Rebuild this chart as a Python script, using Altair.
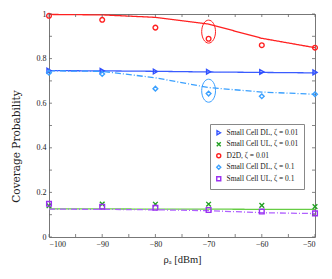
import altair as alt
import pandas as pd

# ---- data ----
x_vals = [-100, -90, -80, -70, -60, -50]
series_names = [
    "Small Cell DL, ζ = 0.01",
    "Small Cell UL, ζ = 0.01",
    "D2D, ζ = 0.01",
    "Small Cell DL, ζ = 0.1",
    "Small Cell UL, ζ = 0.1",
]
# simulated points (markers)
sim_dl_001 = [0.746, 0.745, 0.742, 0.741, 0.740, 0.738]
sim_ul_001 = [0.140, 0.148, 0.147, 0.147, 0.142, 0.136]
sim_d2d_001 = [0.992, 0.974, 0.939, 0.889, 0.860, 0.849]
sim_dl_01 = [0.737, 0.731, 0.665, 0.643, 0.631, 0.640]
sim_ul_01 = [0.149, 0.136, 0.131, 0.121, 0.114, 0.106]
# analytical curves (lines)
ana_dl_001 = [0.746, 0.745, 0.743, 0.740, 0.738, 0.736]
ana_ul_001 = [0.126, 0.126, 0.125, 0.125, 0.124, 0.124]
ana_d2d_001 = [0.998, 0.996, 0.985, 0.955, 0.891, 0.849]
ana_dl_01 = [0.745, 0.743, 0.714, 0.670, 0.650, 0.640]
ana_ul_01 = [0.125, 0.124, 0.122, 0.118, 0.109, 0.105]

colors = ["#3050ff", "#22a022", "#ff2020", "#3aa0ff", "#9a30f0"]
line_colors = ["#3a5cff", "#66cc44", "#ff2020", "#3aa0ff", "#b060ff"]
x_path = "M -1 -1 L 1 1 M -1 1 L 1 -1"
shapes = ["triangle-right", x_path, "circle", "diamond", "square"]
dashes = [[1, 0], [1, 0], [1, 0], [6, 2, 1, 2], [6, 2, 1, 2]]

x_ticks = [-100, -95, -90, -85, -80, -75, -70, -65, -60, -55, -50]
y_ticks = [0, 0.1, 0.2, 0.3, 0.4, 0.5, 0.6, 0.7, 0.8, 0.9, 1.0]

ellipse_x = [-70, -70]
ellipse_y = [0.921, 0.656]
ellipse_colors = ["#ff2020", "#3aa0ff"]

W, H = 266, 223
SERIF = "Liberation Serif"

sims = [sim_dl_001, sim_ul_001, sim_d2d_001, sim_dl_01, sim_ul_01]
anas = [ana_dl_001, ana_ul_001, ana_d2d_001, ana_dl_01, ana_ul_01]

sim_rows, ana_rows = [], []
for name, s, a in zip(series_names, sims, anas):
    for xv, sv, av in zip(x_vals, s, a):
        sim_rows.append({"x": xv, "y": sv, "series": name})
        ana_rows.append({"x": xv, "y": av, "line": name + " "})
sim_df = pd.DataFrame(sim_rows)
ana_df = pd.DataFrame(ana_rows)
line_names = [n + " " for n in series_names]

xscale = alt.Scale(domain=[-100, -50], nice=False)
yscale = alt.Scale(domain=[0, 1], nice=False)

x_enc = alt.X("x:Q", scale=xscale,
              axis=alt.Axis(values=x_ticks, format="d", title="ρₐ [dBm]"))
y_enc = alt.Y("y:Q", scale=yscale,
              axis=alt.Axis(values=y_ticks, format="~g", title="Coverage Probability",
                            titleFont="DejaVu Serif", titleFontSize=10.5,
                            titleX=-33, titleY=132, titleBaseline="middle"))

lines = alt.Chart(ana_df).mark_line(strokeWidth=1.3).encode(
    x=x_enc, y=y_enc,
    stroke=alt.Stroke("line:N", scale=alt.Scale(domain=line_names, range=line_colors), legend=None),
    strokeDash=alt.StrokeDash("line:N", scale=alt.Scale(domain=line_names, range=dashes), legend=None),
)

leg = alt.Legend(orient="none", legendX=161, legendY=110, title=None,
                 strokeColor="#888", fillColor="white", padding=5,
                 labelFont=SERIF, labelFontSize=7.5, labelColor="#222",
                 symbolSize=16, symbolStrokeWidth=1.4, rowPadding=0.5,
                 labelOffset=4)

points = alt.Chart(sim_df).mark_point(filled=False, strokeWidth=1.4, size=22, opacity=1).encode(
    x=alt.X("x:Q", scale=xscale),
    y=alt.Y("y:Q", scale=yscale),
    color=alt.Color("series:N", scale=alt.Scale(domain=series_names, range=colors),
                    sort=series_names, legend=leg),
    shape=alt.Shape("series:N", scale=alt.Scale(domain=series_names, range=shapes),
                    sort=series_names, legend=leg),
)

ellipse_path = "M 0 -1 A 0.6 1 0 1 0 0 1 A 0.6 1 0 1 0 0 -1 Z"
ell_layers = []
for ex, ey, ec in zip(ellipse_x, ellipse_y, ellipse_colors):
    ell_layers.append(
        alt.Chart(pd.DataFrame({"x": [ex], "y": [ey]})).mark_point(
            shape=ellipse_path, size=529, filled=False, strokeWidth=1, opacity=1, color=ec
        ).encode(x=alt.X("x:Q", scale=xscale), y=alt.Y("y:Q", scale=yscale))
    )

tick_color = "#666"
xt = pd.DataFrame({"x": x_ticks})
yt = pd.DataFrame({"y": y_ticks})
tb = alt.Chart(xt).mark_rule(color=tick_color, strokeWidth=0.8).encode(
    x=alt.X("x:Q", scale=xscale), y=alt.value(H), y2=alt.value(H - 3))
tt = alt.Chart(xt).mark_rule(color=tick_color, strokeWidth=0.8).encode(
    x=alt.X("x:Q", scale=xscale), y=alt.value(0), y2=alt.value(3))
tl = alt.Chart(yt).mark_rule(color=tick_color, strokeWidth=0.8).encode(
    y=alt.Y("y:Q", scale=yscale), x=alt.value(0), x2=alt.value(3))
tr = alt.Chart(yt).mark_rule(color=tick_color, strokeWidth=0.8).encode(
    y=alt.Y("y:Q", scale=yscale), x=alt.value(W), x2=alt.value(W - 3))

chart = alt.layer(lines, points, *ell_layers, tb, tt, tl, tr).properties(
    width=W, height=H,
    autosize=alt.AutoSizeParams(type="none"),
    padding={"left": 41, "top": 6, "right": 9, "bottom": 34},
).configure_view(
    stroke="#777", strokeWidth=1
).configure_axis(
    ticks=False, domain=False, grid=False,
    labelFont=SERIF, labelFontSize=8, labelColor="#222", labelPadding=3,
    titleFont=SERIF, titleFontSize=10.5, titleFontWeight="normal", titleColor="#222",
).configure_axisX(
    titlePadding=6
)

chart.save("out.html", embed_options={"renderer": "svg", "actions": False})
